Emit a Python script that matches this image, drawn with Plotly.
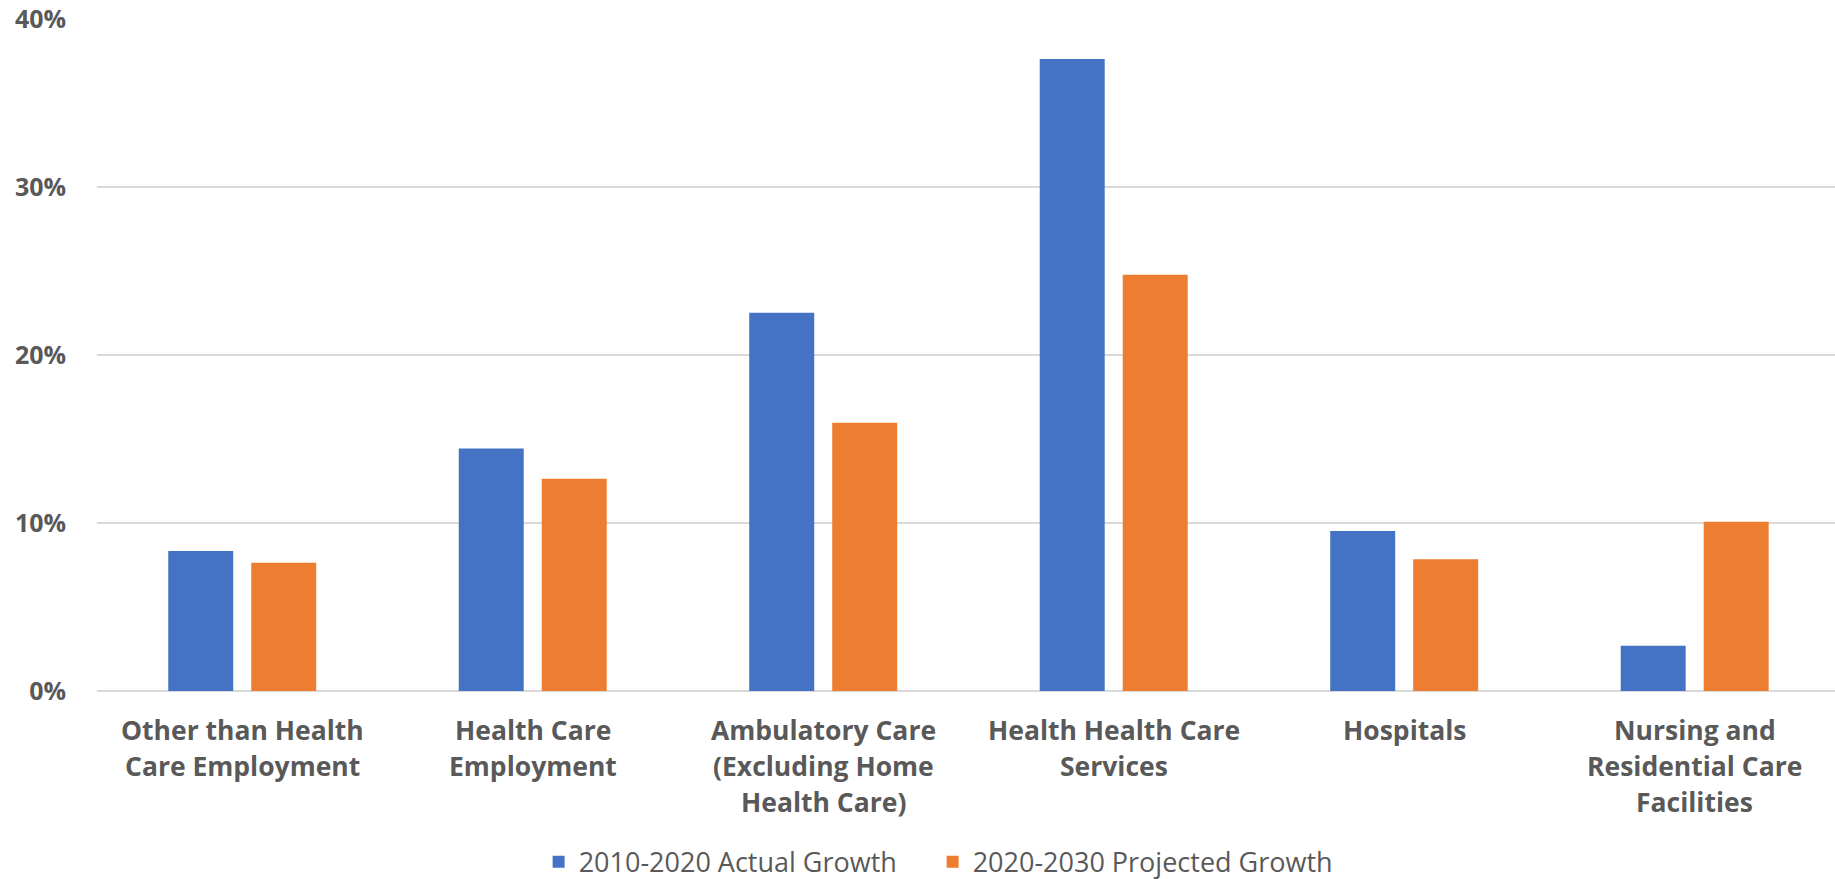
import plotly.graph_objects as go

categories = [
    "Other than Health<br>Care Employment",
    "Health Care<br>Employment",
    "Ambulatory Care<br>(Excluding Home<br>Health Care)",
    "Health Health Care<br>Services",
    "Hospitals",
    "Nursing and<br>Residential Care<br>Facilities",
]
actual_2010_2020 = [0.0833, 0.1444, 0.2252, 0.3762, 0.0952, 0.0269]
projected_2020_2030 = [0.0764, 0.1263, 0.1596, 0.2478, 0.0784, 0.1008]
series_names = ["2010-2020 Actual Growth", "2020-2030 Projected Growth"]
y_ticks = [0, 0.1, 0.2, 0.3, 0.4]

BLUE = "#4472C4"
ORANGE = "#ED7D31"
TEXT = "#595959"
GRID = "#D9D9D9"

x_idx = list(range(len(categories)))

fig = go.Figure()
fig.add_trace(go.Bar(x=x_idx, y=actual_2010_2020, name=series_names[0],
                     marker=dict(color=BLUE, line=dict(width=0)), legend="legend"))
fig.add_trace(go.Bar(x=x_idx, y=projected_2020_2030, name=series_names[1],
                     marker=dict(color=ORANGE, line=dict(width=0)), legend="legend2"))

# Category labels: one annotation per line for Excel-like line spacing
LINE_GAP = 36
annotations = []
for i, label in enumerate(categories):
    for j, line in enumerate(label.split("<br>")):
        annotations.append(dict(
            x=i, y=0, xref="x", yref="y", text=f"<b>{line}</b>",
            showarrow=False, xanchor="center", yanchor="middle",
            yshift=-39 - LINE_GAP * j,
            font=dict(family="Open Sans", size=26.5, color=TEXT),
        ))

legend_style = dict(orientation="h", xanchor="left",
                    yref="container", y=0.019, yanchor="middle",
                    font=dict(family="Open Sans", size=27, color=TEXT),
                    itemwidth=30, bgcolor="rgba(0,0,0,0)")

fig.update_layout(
    width=1835, height=879,
    margin=dict(l=97, r=0, t=19, b=188),
    paper_bgcolor="white", plot_bgcolor="white",
    barmode="group", bargap=0.4286, bargroupgap=0.217,
    font=dict(family="Open Sans", color=TEXT),
    showlegend=True,
    legend=dict(x=0.2541, **legend_style),
    legend2=dict(x=0.4808, **legend_style),
    annotations=annotations,
)
fig.update_xaxes(
    tickmode="array", tickvals=x_idx, showticklabels=False,
    range=[-0.5, 5.483], showgrid=False, showline=False, ticks="",
)
fig.update_yaxes(
    range=[0, 0.4], tickvals=y_ticks, tickformat=".0%",
    showgrid=True, gridcolor=GRID, gridwidth=1.5,
    zeroline=True, zerolinecolor=GRID, zerolinewidth=1.5,
    showline=False, ticks="",
    tickfont=dict(family="Open Sans", size=25, color=TEXT, weight="bold"),
    ticklabelstandoff=30,
)

fig.write_html("out.html")
